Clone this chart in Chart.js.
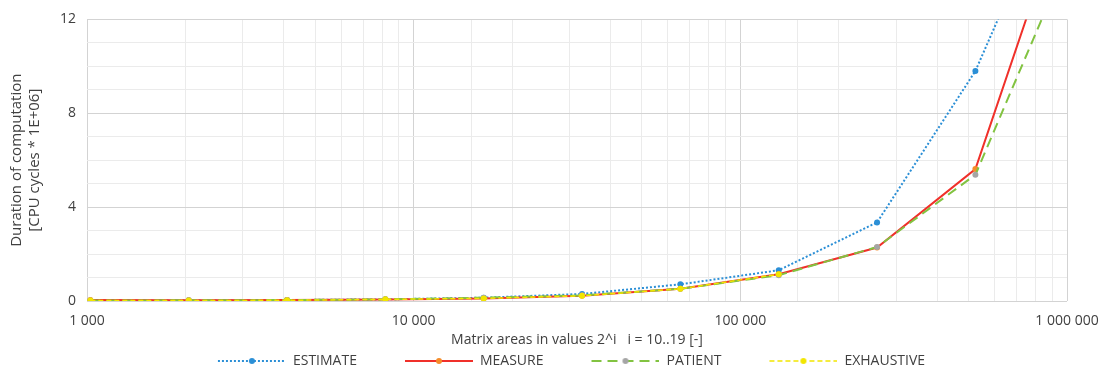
<!DOCTYPE html>
<html>
<head>
<meta charset="utf-8">
<script src="https://cdn.jsdelivr.net/npm/chart.js@4.4.1/dist/chart.umd.min.js"></script>
<style>
  html, body { margin: 0; padding: 0; background: #fff; }
  #chart { display: block; }
</style>
</head>
<body>
<canvas id="chart" width="1107" height="370"></canvas>
<script>
// matrix areas 2^10 .. 2^20 (last point only shows as the line leaving the top)
const areas = [1024, 2048, 4096, 8192, 16384, 32768, 65536, 131072, 262144, 524288, 1048576];
const estimate = [0.02, 0.03, 0.04, 0.07, 0.14, 0.30, 0.71, 1.31, 3.35, 9.80, 19.4];
const measure = [0.04, 0.03, 0.04, 0.06, 0.11, 0.22, 0.52, 1.14, 2.28, 5.62, 18.0];
const patient = [0.02, 0.03, 0.04, 0.07, 0.14, 0.24, 0.52, 1.10, 2.30, 5.38, 15.2];
const exhaustive = [0.02, 0.02, 0.03, 0.07, 0.11, 0.22, 0.52, 1.14];

const xLabelTicks = [1000, 10000, 100000, 1000000];
const yLabelTicks = [0, 4, 8, 12];
const seriesNames = ['ESTIMATE', 'MEASURE', 'PATIENT', 'EXHAUSTIVE'];

const FONT = '"Open Sans", sans-serif';
const TEXT = '#404040';

function toPoints(vals) {
    return vals.map((v, i) => ({ x: areas[i], y: v }));
}

function spaced(n) {
    return String(n).replace(/\B(?=(\d{3})+(?!\d))/g, ' ');
}

// legend marker: blank gap on the left, then the line with a dot in the middle
function legendIcon(color, dash, dotColor, lw) {
    const gap = 42, len = 68;
    const c = document.createElement('canvas');
    c.width = gap + len;
    c.height = 10;
    const g = c.getContext('2d');
    g.strokeStyle = color;
    g.lineWidth = lw;
    g.setLineDash(dash);
    g.beginPath();
    g.moveTo(gap, 5);
    g.lineTo(gap + len, 5);
    g.stroke();
    g.fillStyle = dotColor;
    g.beginPath();
    g.arc(gap + len / 2, 5, 3, 0, Math.PI * 2);
    g.fill();
    return c;
}

const styles = [
    { line: '#2b8fd6', point: '#2b8fd6', dash: [2, 2], width: 2 },
    { line: '#f0302a', point: '#f58c2a', dash: [], width: 2 },
    { line: '#82c341', point: '#a5a5a5', dash: [10, 6], width: 2 },
    { line: '#f2e600', point: '#f2e600', dash: [5, 3], width: 1.5 }
];
const seriesData = [estimate, measure, patient, exhaustive];
const icons = styles.map(s => legendIcon(s.line, s.dash, s.point, s.width));

// the legend in the original sits a bit right of centre
const legendShift = {
    id: 'legendShift',
    afterLayout(chart) {
        chart.legend.left += 17;
        chart.legend.right += 17;
    }
};

const ctx = document.getElementById('chart').getContext('2d');
new Chart(ctx, {
    type: 'line',
    data: {
        datasets: seriesNames.map((name, i) => ({
            label: name,
            data: toPoints(seriesData[i]),
            borderColor: styles[i].line,
            borderWidth: styles[i].width,
            borderDash: styles[i].dash,
            pointBackgroundColor: styles[i].point,
            pointBorderColor: styles[i].point,
            pointRadius: 3,
            pointBorderWidth: 0,
            tension: 0,
            fill: false,
            order: 3 - i
        }))
    },
    plugins: [legendShift],
    options: {
        responsive: false,
        animation: false,
        devicePixelRatio: 1,
        layout: { padding: { left: 0, right: 40, top: 7, bottom: 0 } },
        plugins: {
            tooltip: { enabled: false },
            legend: {
                position: 'bottom',
                maxHeight: 22,
                labels: {
                    usePointStyle: true,
                    pointStyleWidth: 110,
                    boxHeight: 10,
                    padding: 6,
                    color: TEXT,
                    font: { family: FONT, size: 14 },
                    generateLabels: () => seriesNames.map((n, i) => ({
                        text: n,
                        pointStyle: icons[i],
                        fillStyle: 'rgba(0,0,0,0)',
                        strokeStyle: 'rgba(0,0,0,0)',
                        lineWidth: 0,
                        fontColor: TEXT,
                        hidden: false,
                        datasetIndex: i
                    }))
                }
            }
        },
        scales: {
            x: {
                type: 'logarithmic',
                min: 1000,
                max: 1000000,
                grid: {
                    color: c => xLabelTicks.includes(c.tick && c.tick.value) ? '#d3d3d3' : '#ebebeb',
                    lineWidth: 1,
                    drawTicks: false
                },
                border: { display: false },
                ticks: {
                    autoSkip: false,
                    maxRotation: 0,
                    padding: 12,
                    color: TEXT,
                    font: { family: FONT, size: 14 },
                    callback: v => xLabelTicks.includes(v) ? spaced(v) : ''
                },
                title: {
                    display: true,
                    text: 'Matrix areas in values 2^i   i = 10..19 [-]',
                    color: TEXT,
                    font: { family: FONT, size: 14 },
                    padding: { top: 0, bottom: 0 }
                },
                afterFit: scale => {
                    scale.height = 47;
                    scale.paddingLeft = 0;
                    scale.paddingRight = 0;
                }
            },
            y: {
                min: 0,
                max: 12,
                grid: {
                    color: c => yLabelTicks.includes(c.tick && c.tick.value) ? '#d3d3d3' : '#ebebeb',
                    lineWidth: 1,
                    drawTicks: false
                },
                border: { display: false },
                ticks: {
                    stepSize: 1,
                    padding: 11,
                    color: TEXT,
                    font: { family: FONT, size: 14 },
                    callback: v => yLabelTicks.includes(v) ? v : ''
                },
                title: {
                    display: true,
                    text: ['Duration of computation', '[CPU cycles * 1E+06]'],
                    color: TEXT,
                    font: { family: FONT, size: 15 },
                    padding: { top: 8, bottom: 0 }
                },
                afterFit: scale => { scale.width = 87; }
            }
        }
    }
});
</script>
</body>
</html>
